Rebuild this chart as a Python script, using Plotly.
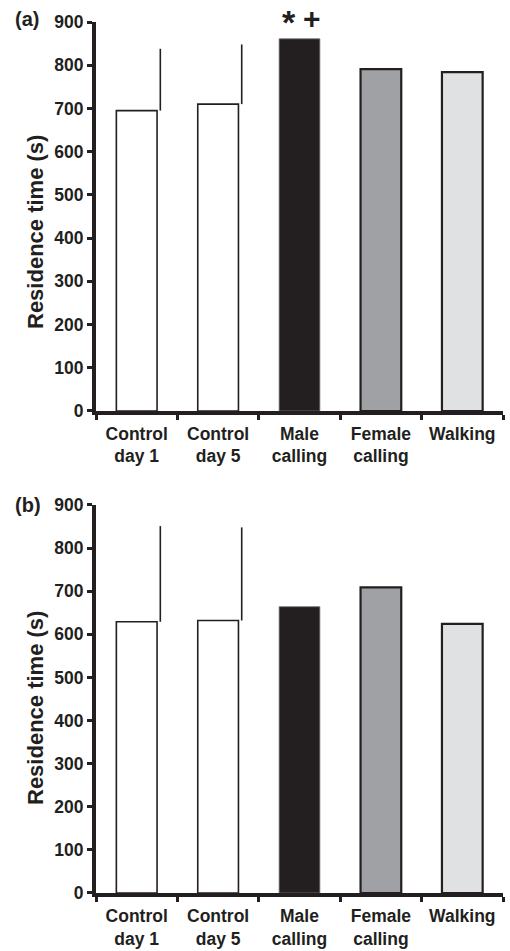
import plotly.graph_objects as go

categories = ["Control<br>day 1", "Control<br>day 5", "Male<br>calling", "Female<br>calling", "Walking"]
values_a = [695, 710, 861, 791, 784]
values_b = [629, 632, 664, 709, 624]
err_categories = ["Control<br>day 1", "Control<br>day 5"]
err_a_base = [695, 710]
err_a_up = [143, 138]
err_b_base = [629, 632]
err_b_up = [222, 216]
y_ticks = [0, 100, 200, 300, 400, 500, 600, 700, 800, 900]

DARK = "#231f20"
fills = ["#ffffff", "#ffffff", DARK, "#a0a1a4", "#e0e1e3"]
line_cols = [DARK, DARK, "#6d6d6d", DARK, DARK]
line_w = [1.6, 1.6, 0.8, 2.2, 2.2]
FONT = "Liberation Sans, Arial, sans-serif"

fig = go.Figure()

for vals, xa, ya, eb, eu in [(values_a, "x", "y", err_a_base, err_a_up),
                             (values_b, "x2", "y2", err_b_base, err_b_up)]:
    fig.add_trace(go.Bar(x=categories, y=vals, xaxis=xa, yaxis=ya, width=0.5,
                         marker=dict(color=fills, line=dict(color=line_cols, width=line_w)),
                         showlegend=False, hoverinfo="x+y"))
    fig.add_trace(go.Bar(x=err_categories, y=eb, xaxis=xa, yaxis=ya, width=0.01, offset=0.285,
                         marker=dict(color="rgba(0,0,0,0)", line=dict(width=0)),
                         error_y=dict(type="data", symmetric=False, array=eu,
                                      arrayminus=[0] * len(eu), color=DARK,
                                      thickness=1.6, width=0),
                         showlegend=False, hoverinfo="skip"))

xcommon = dict(type="category", categoryorder="array", categoryarray=categories,
               range=[-0.5, 4.5], tickson="boundaries", ticks="outside", ticklen=5,
               tickwidth=2.5, tickcolor=DARK, showline=True, linecolor=DARK, linewidth=3.5,
               showgrid=False, zeroline=False, ticklabelstandoff=4, tickangle=0,
               automargin=False,
               tickfont=dict(family=FONT, size=17.5, color=DARK, weight="bold"))
ycommon = dict(range=[0, 900], tickvals=y_ticks, ticks="outside", ticklen=5, tickwidth=2.5,
               tickcolor=DARK, showline=True, linecolor=DARK, linewidth=4, showgrid=False,
               zeroline=False, automargin=False,
               tickfont=dict(family=FONT, size=17.5, color=DARK, weight="bold"))

title_font = dict(family=FONT, size=22, color=DARK, weight="bold")
panel_font = dict(family=FONT, size=20, color=DARK, weight="bold")

fig.update_layout(
    width=510, height=951,
    margin=dict(l=96, r=7, t=22, b=58),
    paper_bgcolor="white", plot_bgcolor="white",
    barmode="overlay",
    font=dict(family=FONT, color=DARK, weight="bold"),
    xaxis=dict(xcommon, anchor="y", domain=[0, 1]),
    yaxis=dict(ycommon, anchor="x", domain=[0.5534, 1]),
    xaxis2=dict(xcommon, anchor="y2", domain=[0, 1]),
    yaxis2=dict(ycommon, anchor="x2", domain=[0, 0.4455]),
    annotations=[
        dict(text="Residence time (s)", xref="paper", yref="paper", x=-0.1474, y=0.7589,
             textangle=-90, xanchor="center", yanchor="middle", showarrow=False, font=title_font),
        dict(text="Residence time (s)", xref="paper", yref="paper", x=-0.1474, y=0.2124,
             textangle=-90, xanchor="center", yanchor="middle", showarrow=False, font=title_font),
        dict(text="(a)", xref="paper", yref="paper", x=-0.204, y=1.004, xanchor="left",
             yanchor="middle", showarrow=False, font=panel_font),
        dict(text="(b)", xref="paper", yref="paper", x=-0.204, y=0.4455, xanchor="left",
             yanchor="middle", showarrow=False, font=panel_font),
        dict(text="*", xref="x", yref="paper", x="Male<br>calling", y=1.02526, xshift=-11,
             yshift=-1, xanchor="center", yanchor="top", showarrow=False,
             font=dict(family=FONT, size=34, color=DARK, weight="bold")),
        dict(text="+", xref="x", yref="paper", x="Male<br>calling", y=1.02526, xshift=12,
             yshift=0, xanchor="center", yanchor="top", showarrow=False,
             font=dict(family=FONT, size=30, color=DARK, weight="bold")),
    ],
)

fig.write_html("out.html")
